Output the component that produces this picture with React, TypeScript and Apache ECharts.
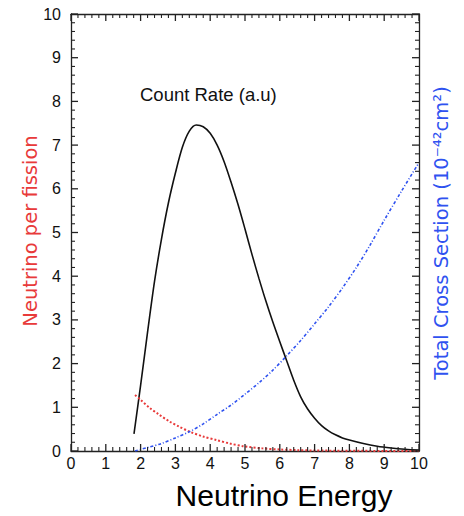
import React, { useEffect, useRef } from "react";
import * as echarts from "echarts";

const xTicks = [0, 1, 2, 3, 4, 5, 6, 7, 8, 9, 10];
const yTicks = [0, 1, 2, 3, 4, 5, 6, 7, 8, 9, 10];
const minorPerMajor = 5;

const countRateE = [1.81, 2.0, 2.2, 2.4, 2.6, 2.8, 3.0, 3.2, 3.4, 3.6, 3.8, 4.0, 4.2, 4.4, 4.6, 4.8, 5.0, 5.2, 5.4, 5.6, 5.8, 6.0, 6.2, 6.4, 6.6, 6.8, 7.0, 7.2, 7.4, 7.6, 7.8, 8.0, 8.4, 8.8, 9.2, 9.6, 10.0];
const countRate = [0.39, 1.5, 2.72, 3.88, 4.85, 5.68, 6.36, 6.95, 7.32, 7.46, 7.42, 7.27, 7.0, 6.62, 6.15, 5.64, 5.08, 4.5, 3.95, 3.43, 2.95, 2.5, 2.06, 1.62, 1.24, 0.96, 0.75, 0.58, 0.46, 0.37, 0.3, 0.25, 0.17, 0.11, 0.07, 0.04, 0.02];

const perFissionE = [1.84, 2.0, 2.27, 2.5, 2.84, 3.1, 3.42, 3.8, 4.18, 4.57, 4.95, 5.5, 6.0, 6.5, 7.0, 8.0, 9.0, 10.0];
const perFission = [1.28, 1.17, 0.98, 0.85, 0.67, 0.56, 0.44, 0.33, 0.25, 0.17, 0.11, 0.06, 0.035, 0.02, 0.012, 0.005, 0.002, 0.001];

const crossSectionE = [1.84, 2.2, 2.6, 3.0, 3.4, 3.8, 4.2, 4.6, 5.0, 5.4, 5.8, 6.2, 6.6, 7.0, 7.4, 7.8, 8.2, 8.6, 9.0, 9.5, 10.0];
const crossSection = [0.0, 0.08, 0.17, 0.3, 0.44, 0.62, 0.84, 1.05, 1.3, 1.56, 1.85, 2.18, 2.53, 2.91, 3.3, 3.73, 4.2, 4.72, 5.28, 5.95, 6.6];

const zip = (xs: number[], ys: number[]) => xs.map((x, i) => [x, ys[i]]);

// tick specs [value, isMajor] for one axis
const tickSpecs = (ticks: number[]) => {
  const out: number[][] = [];
  for (let i = 0; i < ticks.length; i++) {
    out.push([ticks[i], 1]);
    if (i < ticks.length - 1) {
      const step = (ticks[i + 1] - ticks[i]) / minorPerMajor;
      for (let k = 1; k < minorPerMajor; k++) out.push([ticks[i] + k * step, 0]);
    }
  }
  return out;
};

const frameAxis = (position: string, showLabel: boolean, margin: number, ticks: number[]) => ({
  type: "value",
  position,
  min: ticks[0],
  max: ticks[ticks.length - 1],
  interval: 1,
  axisLine: { show: true, onZero: false, lineStyle: { color: "#222", width: 1.3 } },
  axisTick: { show: false },
  minorTick: { show: false },
  splitLine: { show: false },
  axisLabel: showLabel
    ? { show: true, color: "#111", fontSize: 16, fontFamily: "Liberation Sans", margin, formatter: (v: number) => (ticks.includes(v) ? String(v) : "") }
    : { show: false },
});

const texts = [
  {
    type: "text",
    left: 140,
    top: 85,
    style: { text: "Count Rate (a.u)", fontSize: 18.5, fontFamily: "Liberation Sans", fill: "#111" },
  },
  {
    type: "text",
    x: 30,
    y: 231,
    rotation: Math.PI / 2,
    style: { text: "Neutrino per fission", fontSize: 19.5, fontFamily: "DejaVu Sans", fill: "#e83a3a", align: "center", verticalAlign: "middle" },
  },
  {
    type: "text",
    x: 441,
    y: 233,
    rotation: Math.PI / 2,
    style: { text: "Total Cross Section (10⁻⁴²cm²)", fontSize: 19.5, fontFamily: "DejaVu Sans", fill: "#2f52f0", align: "center", verticalAlign: "middle" },
  },
  {
    type: "text",
    x: 284,
    y: 495,
    style: { text: "Neutrino Energy", fontSize: 30, fontFamily: "Liberation Sans", fill: "#000", align: "center", verticalAlign: "middle" },
  },
];

export default function App() {
  const ref = useRef<HTMLDivElement>(null);
  useEffect(() => {
    if (!ref.current) return;
    const chart = echarts.init(ref.current, null, { renderer: "svg" });
    chart.setOption({
      animation: false,
      backgroundColor: "#fff",
      grid: { left: 71, right: 45, top: 14, bottom: 65, containLabel: false },
      xAxis: [frameAxis("bottom", true, 4, xTicks), frameAxis("top", false, 4, xTicks)],
      yAxis: [frameAxis("left", true, 10, yTicks), frameAxis("right", false, 10, yTicks)],
      series: [
        {
          name: "Count Rate (a.u)",
          type: "line",
          data: zip(countRateE, countRate),
          smooth: 0.3,
          showSymbol: false,
          lineStyle: { color: "#111", width: 1.6 },
        },
        {
          name: "Neutrino per fission",
          type: "line",
          data: zip(perFissionE, perFission),
          smooth: 0.3,
          showSymbol: false,
          lineStyle: { color: "#e83a3a", width: 2, type: [2, 2] },
        },
        {
          name: "Total Cross Section",
          type: "line",
          yAxisIndex: 1,
          data: zip(crossSectionE, crossSection),
          smooth: 0.3,
          showSymbol: false,
          lineStyle: { color: "#2f52f0", width: 1.6, type: [3, 2, 1, 2] },
        },
      ],
      graphic: texts,
    });

    // inward ticks on all four sides, placed through the chart's own scales
    const tickEls: any[] = [];
    try {
      const finder = { xAxisIndex: 0, yAxisIndex: 0 };
      const x0 = xTicks[0], x1 = xTicks[xTicks.length - 1];
      const y0 = yTicks[0], y1 = yTicks[yTicks.length - 1];
      const pLB = chart.convertToPixel(finder, [x0, y0]) as number[];
      const pRT = chart.convertToPixel(finder, [x1, y1]) as number[];
      const left = pLB[0], bottom = pLB[1], right = pRT[0], top = pRT[1];
      const mk = (a: number, b: number, c: number, d: number, major: boolean) => ({
        type: "line",
        silent: true,
        z: 50,
        shape: { x1: a, y1: b, x2: c, y2: d },
        style: { stroke: "#222", lineWidth: major ? 1.3 : 1.1 },
      });
      for (const [v, m] of tickSpecs(xTicks)) {
        const px = (chart.convertToPixel(finder, [v, y0]) as number[])[0];
        const len = m ? 7 : 4;
        tickEls.push(mk(px, bottom, px, bottom - len, !!m));
        tickEls.push(mk(px, top, px, top + len, !!m));
      }
      for (const [v, m] of tickSpecs(yTicks)) {
        const py = (chart.convertToPixel(finder, [x0, v]) as number[])[1];
        const len = m ? 7 : 4;
        tickEls.push(mk(left, py, left + len, py, !!m));
        tickEls.push(mk(right, py, right - len, py, !!m));
      }
      chart.setOption({ graphic: [...texts, ...tickEls] });
    } catch (e) {
      // keep chart without ticks if conversion fails
    }
    return () => chart.dispose();
  }, []);
  return <div ref={ref} style={{ position: "fixed", left: 0, top: 0, width: 464, height: 516 }} />;
}
